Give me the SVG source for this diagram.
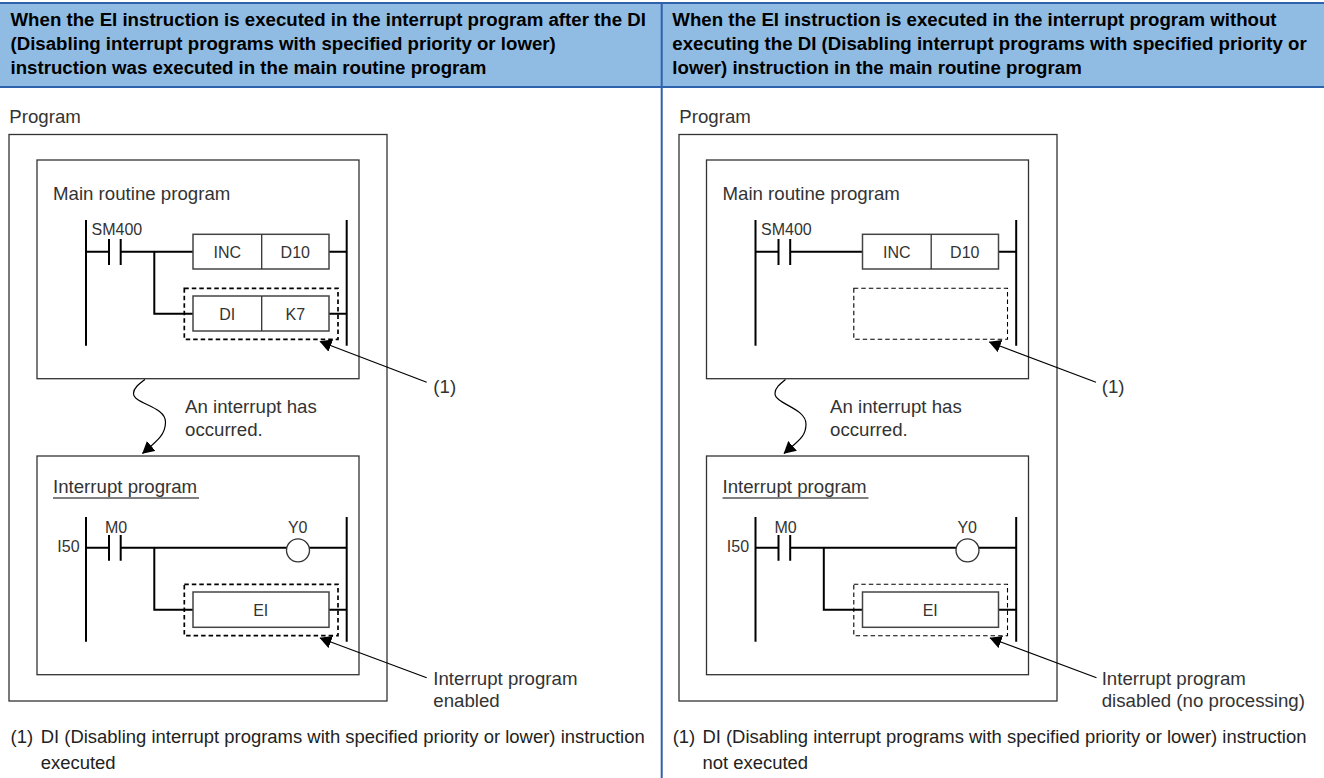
<svg xmlns="http://www.w3.org/2000/svg" width="1324" height="778" viewBox="0 0 1324 778">
<style>
text{font-family:"Liberation Sans",Arial,sans-serif;font-size:18.67px;fill:#333}
.h{font-weight:bold;fill:#000}
.f{fill:#222;font-size:18.47px}
.s{font-size:16px}
.m{text-anchor:middle}
.b{fill:#fff;stroke:#333;stroke-width:1.3}
.e{fill:#fff;stroke:#444;stroke-width:1.5}
.r{fill:none;stroke:#000;stroke-width:2}
.t{fill:none;stroke:#000;stroke-width:1.2}
.d{fill:none;stroke:#000;stroke-width:1.1;stroke-dasharray:4.500 3}
.ds{stroke-width:1.7}
</style>
<defs>
<marker id="a" markerUnits="userSpaceOnUse" markerWidth="14" markerHeight="14" refX="11.500" refY="6.500" orient="auto"><path d="M0 0L12 6.500L0 13z" fill="#000"/></marker>
<g id="rung-main">
<path class="r" d="M86 220V345.700M346.700 220V345.700M86 251.700H109M120.700 251.700H193M329 251.700H346.700M109 239V265M120.700 239V265"/>
<rect class="e" x="193" y="234.300" width="136" height="34.700"/><path class="b" d="M261.700 234.300V269"/>
<text class="s" x="91.500" y="235">SM400</text>
<text class="s m" x="227.300" y="258">INC</text><text class="s m" x="295.300" y="258">D10</text>
</g>
<g id="rung-int">
<path class="r" d="M86 517V641.700M346.700 517V641.700M86 547.700H109M120.700 547.700H346.700M109 535V560.700M120.700 535V560.700M154.300 547.700V609.700H193M329 609.700H346.700"/>
<circle class="b" cx="298" cy="550.300" r="11.500"/>
<rect class="e" x="193" y="592" width="136" height="35.300"/>
<text class="s" x="105" y="533.300">M0</text><text class="s m" x="297.700" y="533.300">Y0</text><text class="s" x="57.300" y="552">I50</text>
<text class="s m" x="260.700" y="616">EI</text>
</g>
</defs>
<g id="header">
<rect x="0" y="3" width="1324" height="84" fill="#90bce3"/>
<path d="M0 3H1324M0 87H1324M661.700 3V778" stroke="#2f62ac" stroke-width="2" fill="none"/>
<text class="h" x="10.500" y="26">When the EI instruction is executed in the interrupt program after the DI</text>
<text class="h" x="10.500" y="50">(Disabling interrupt programs with specified priority or lower)</text>
<text class="h" x="10.500" y="74">instruction was executed in the main routine program</text>
<text class="h" x="672.300" y="26">When the EI instruction is executed in the interrupt program without</text>
<text class="h" x="672.300" y="50">executing the DI (Disabling interrupt programs with specified priority or</text>
<text class="h" x="672.300" y="74">lower) instruction in the main routine program</text>
</g>
<g id="left">
<text x="9.300" y="122.700">Program</text>
<rect class="b" x="9" y="134.500" width="378" height="566.500"/>
<g id="main-l">
<rect class="b" x="37" y="160" width="322" height="218.700"/>
<text x="53" y="199.500">Main routine program</text>
<use href="#rung-main"/>
<path class="r" d="M154.300 251.700V313.700H193M329 313.700H346.700"/>
<rect class="e" x="193" y="296" width="136" height="35"/><path class="b" d="M261.700 296V331"/>
<text class="s m" x="227.300" y="320">DI</text><text class="s m" x="295.300" y="320">K7</text>
<rect class="d ds" x="184.300" y="288.300" width="153.700" height="51"/>
</g>
<g id="int-l">
<rect class="b" x="37" y="456" width="322" height="218.700"/>
<text x="53" y="492.700">Interrupt program</text>
<path class="t" d="M53 498H199"/>
<use href="#rung-int"/>
<rect class="d ds" x="184.300" y="584.300" width="153.700" height="51.400"/>
</g>
<text x="185" y="413.300">An interrupt has</text><text x="185" y="436">occurred.</text>
<text x="433.300" y="392.700">(1)</text>
<text x="433.300" y="685">Interrupt program</text><text x="433.300" y="707.300">enabled</text>
<text class="f" x="10.500" y="743">(1)</text><text class="f" x="40.700" y="743">DI (Disabling interrupt programs with specified priority or lower) instruction</text><text class="f" x="40.700" y="769">executed</text>
</g>
<g id="right" transform="translate(669.500 0)">
<text x="9.800" y="122.700">Program</text>
<rect class="b" x="9.500" y="134.500" width="378" height="566.500"/>
<g id="main-r">
<rect class="b" x="37" y="160" width="322" height="218.700"/>
<text x="53" y="199.500">Main routine program</text>
<use href="#rung-main"/>
<rect class="d" x="184.300" y="288.300" width="153.700" height="51"/>
</g>
<g id="int-r">
<rect class="b" x="37" y="456" width="322" height="218.700"/>
<text x="53" y="492.700">Interrupt program</text>
<path class="t" d="M53 498H199"/>
<use href="#rung-int"/>
<rect class="d" x="184.300" y="584.300" width="153.700" height="51.400"/>
</g>
<text x="160.500" y="413.300">An interrupt has</text><text x="160.500" y="436">occurred.</text>
<text x="432.200" y="392.700">(1)</text>
<text x="432.200" y="685">Interrupt program</text><text x="432.200" y="707.300">disabled (no processing)</text>
<text class="f" x="3.200" y="743">(1)</text><text class="f" x="32.900" y="743">DI (Disabling interrupt programs with specified priority or lower) instruction</text><text class="f" x="32.900" y="769">not executed</text>
</g>
<g id="connectors">
<path class="t" d="M145 379.500C139 384 133.500 388 133.500 393.500C133.500 404 165.500 406 165.500 422C165.500 435 157 441 142.500 453.500" marker-end="url(#a)"/>
<path class="t" d="M426.700 382.300L320 341.500" marker-end="url(#a)"/>
<path class="t" d="M426.700 677.700L320 638" marker-end="url(#a)"/>
<path class="t" d="M785.500 379.500C780 384 775 388 775 393.500C775 404 806 408 806 424C806 437 798 441 784 453.500" marker-end="url(#a)"/>
<path class="t" d="M1096 382.300L989.300 342" marker-end="url(#a)"/>
<path class="t" d="M1096.500 677.700L990 638" marker-end="url(#a)"/>
</g>
</svg>
